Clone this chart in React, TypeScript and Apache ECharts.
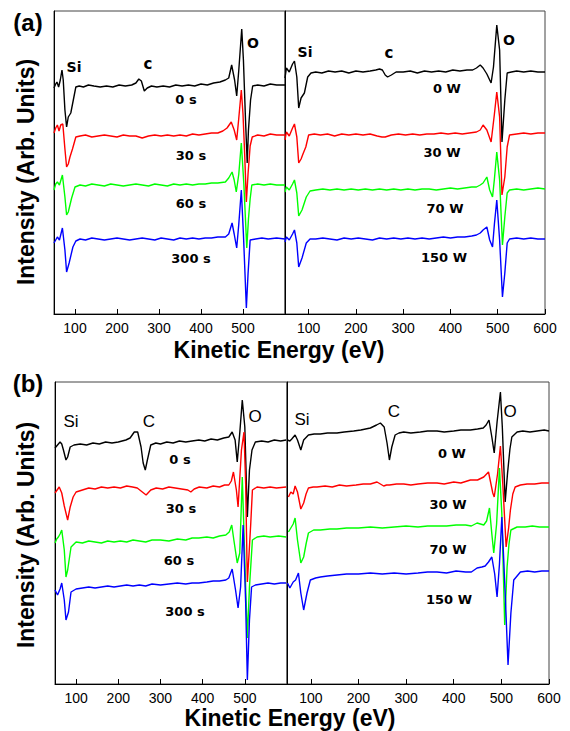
import React, { useEffect, useRef } from "react";
import * as echarts from "echarts";

// ---------- data (x = kinetic energy in eV, y = intensity, arb. units, offset) ----------
const leftTicks = [100, 200, 300, 400, 500];
const rightTicks = [100, 200, 300, 400, 500, 600];
const timeLabels = ["0 s", "30 s", "60 s", "300 s"];
const powerLabels = ["0 W", "30 W", "70 W", "150 W"];
const peakLabelsA = ["Si", "c", "O"];
const peakLabelsB = ["Si", "C", "O"];
const colors = ["#000000", "#ff0000", "#00ff00", "#0000ff"];

const aL_0s = [[50,226],[54,230],[57,232],[61,227],[65,234],[69,244],[72,234],[76,204],[80,187],[84,197],[90,201],[96,214],[102,227],[110,228],[120,227],[132,229],[145,228],[160,227],[175,228],[190,227],[205,229],[220,228],[235,229],[245,231],[252,235],[258,233],[265,223],[272,226],[282,228],[295,227],[310,228],[325,227],[340,229],[355,228],[370,229],[385,228],[400,230],[415,229],[430,231],[445,232],[458,234],[466,236],[473,249],[480,234],[485,218],[490,244],[497,285],[501,254],[506,194],[510,151],[513,184],[518,214],[523,228],[535,229],[550,228],[565,230],[580,229],[600,229]];
const aL_30s = [[50,181],[54,186],[58,189],[62,183],[66,189],[71,190],[76,165],[80,147],[84,150],[88,157],[94,165],[98,171],[102,177],[112,178],[125,179],[140,177],[155,178],[170,179],[185,178],[200,177],[215,179],[230,178],[245,178],[260,176],[275,178],[290,179],[305,178],[320,179],[335,178],[350,179],[365,178],[380,180],[395,179],[410,180],[425,181],[440,181],[452,183],[462,186],[472,192],[479,184],[485,174],[490,196],[496,224],[500,200],[504,160],[508,112],[512,140],[517,168],[522,177],[535,179],[550,178],[565,180],[580,179],[600,179]];
const aL_60s = [[50,124],[54,130],[58,132],[63,129],[70,139],[76,117],[80,99],[84,102],[92,116],[100,127],[112,129],[125,128],[140,130],[155,129],[170,128],[185,130],[200,129],[215,128],[230,129],[245,130],[260,129],[275,128],[290,130],[305,129],[320,128],[335,130],[350,129],[365,130],[380,129],[395,130],[410,130],[425,131],[440,131],[458,132],[466,136],[474,142],[479,134],[484,122],[490,140],[496,171],[502,130],[509,66],[513,95],[517,115],[521,129],[535,130],[550,129],[565,130],[580,129],[600,129]];
const aL_300s = [[50,71],[54,74],[58,77],[63,74],[70,86],[76,64],[80,42],[86,51],[95,67],[102,73],[112,75],[125,74],[140,76],[155,75],[170,74],[185,75],[200,76],[215,75],[230,74],[245,75],[260,76],[275,75],[290,74],[305,76],[320,75],[335,74],[350,76],[365,75],[380,76],[395,75],[410,76],[425,76],[440,77],[458,77],[466,80],[474,91],[479,80],[485,66],[490,90],[496,124],[501,80],[508,6],[512,40],[517,74],[530,75],[545,76],[560,75],[580,76],[600,75]];

const aR_0W = [[50,236],[53,246],[59,242],[66,250],[70,253],[75,237],[79,206],[84,216],[91,221],[98,237],[105,241],[115,242],[128,241],[142,243],[156,242],[170,243],[185,241],[200,243],[215,242],[230,243],[242,244],[250,245],[256,244],[262,239],[267,237],[275,239],[285,242],[300,242],[315,243],[330,241],[345,243],[360,242],[375,243],[390,242],[405,244],[420,243],[435,244],[447,244],[455,246],[463,249],[469,246],[477,240],[486,231],[491,247],[498,289],[504,264],[509,172],[515,214],[520,241],[529,242],[540,243],[555,242],[570,243],[585,242],[600,242]];
const aR_30W = [[50,174],[53,182],[59,178],[66,186],[70,190],[75,177],[79,151],[84,155],[88,160],[94,167],[100,179],[112,180],[125,179],[140,180],[155,178],[170,180],[185,179],[200,180],[215,179],[230,180],[245,178],[255,177],[262,177],[275,179],[290,180],[305,179],[320,180],[335,179],[350,180],[365,180],[380,181],[395,180],[410,181],[425,180],[440,181],[455,182],[463,184],[469,189],[477,184],[486,172],[493,200],[498,222],[504,197],[509,119],[515,137],[520,167],[525,179],[540,180],[555,181],[570,180],[585,181],[600,181]];
const aR_70W = [[50,122],[53,127],[59,124],[66,130],[70,134],[75,121],[79,98],[86,104],[95,117],[103,123],[115,124],[130,125],[145,124],[160,125],[175,124],[190,125],[205,124],[220,125],[235,124],[250,125],[265,124],[280,125],[295,124],[310,125],[325,124],[340,125],[355,125],[370,124],[385,125],[400,126],[415,125],[430,126],[445,127],[455,127],[463,129],[469,131],[477,137],[483,124],[489,117],[493,135],[498,162],[504,134],[510,69],[515,97],[520,121],[525,124],[540,125],[555,124],[570,125],[585,126],[600,125]];
const aR_150W = [[50,72],[53,77],[59,74],[66,80],[70,84],[75,71],[79,47],[86,56],[95,71],[103,75],[115,75],[130,76],[145,75],[160,74],[175,76],[190,75],[205,76],[220,75],[235,74],[250,76],[265,75],[280,76],[295,75],[310,76],[325,75],[340,76],[355,75],[370,76],[385,77],[400,76],[415,77],[430,77],[445,78],[455,79],[463,81],[469,84],[477,87],[483,74],[489,67],[493,90],[498,114],[504,74],[510,17],[515,41],[520,71],[525,75],[540,76],[555,75],[570,76],[585,75],[600,75]];

const bL_0s = [[50,236],[56,239],[62,242],[66,240],[70,234],[76,224],[80,227],[86,237],[95,239],[110,240],[125,239],[140,241],[155,240],[170,242],[185,241],[200,242],[218,244],[228,246],[238,252],[246,252],[254,237],[259,221],[264,214],[269,224],[277,239],[289,241],[300,240],[315,242],[330,241],[345,243],[360,242],[375,243],[391,244],[405,243],[420,245],[435,244],[450,246],[462,247],[470,252],[477,244],[482,222],[488,251],[494,284],[500,257],[506,167],[511,214],[517,234],[525,242],[540,243],[555,242],[570,244],[585,243],[598,244]];
const bL_30s = [[50,191],[55,194],[60,197],[66,191],[72,178],[76,171],[80,164],[86,177],[93,187],[100,192],[115,194],[130,196],[145,195],[160,197],[175,196],[190,197],[205,196],[220,198],[234,197],[245,196],[254,193],[260,191],[266,189],[277,194],[290,196],[305,195],[320,197],[335,196],[350,195],[365,194],[372,192],[380,195],[392,197],[410,196],[425,198],[440,197],[452,199],[462,199],[468,203],[473,212],[480,194],[484,177],[492,234],[498,252],[502,200],[506,102],[510,130],[514,160],[518,194],[529,197],[545,196],[560,197],[575,196],[598,197]];
const bL_60s = [[50,141],[54,145],[58,147],[62,150],[66,154],[72,134],[76,107],[80,114],[88,137],[100,142],[115,141],[130,143],[145,142],[160,141],[175,143],[190,142],[205,143],[220,142],[235,144],[250,143],[265,142],[280,144],[300,144],[320,143],[340,145],[360,144],[375,146],[391,146],[410,147],[425,146],[440,148],[455,149],[463,152],[469,159],[474,144],[482,121],[488,131],[494,207],[502,97],[506,46],[511,97],[518,144],[529,147],[545,148],[560,147],[580,148],[598,147]];
const bL_300s = [[50,94],[56,89],[62,95],[66,101],[72,84],[76,64],[82,72],[88,92],[100,95],[115,96],[130,97],[145,96],[160,97],[175,98],[190,97],[205,98],[220,99],[235,98],[250,99],[265,98],[280,100],[300,99],[320,100],[340,101],[360,100],[375,101],[391,101],[410,102],[425,103],[440,103],[455,104],[462,106],[470,115],[478,94],[484,76],[490,97],[496,159],[502,81],[506,4],[511,64],[516,97],[525,99],[540,100],[555,101],[570,100],[585,101],[598,101]];

const bR_0W = [[51,244],[56,243],[60,245],[67,249],[72,244],[79,234],[85,244],[95,249],[107,250],[120,250],[135,251],[155,251],[170,252],[190,253],[205,254],[225,256],[238,259],[246,261],[254,257],[260,241],[265,224],[270,237],[277,249],[285,251],[295,252],[310,251],[330,252],[345,253],[365,253],[380,252],[400,253],[415,254],[435,254],[450,255],[462,256],[468,259],[474,264],[480,247],[485,231],[491,262],[498,292],[502,257],[508,182],[513,211],[518,235],[522,247],[533,252],[545,253],[560,252],[575,253],[590,254],[600,253]];
const bR_30W = [[53,187],[58,192],[63,190],[67,198],[72,192],[79,175],[85,181],[90,190],[95,196],[105,197],[113,197],[130,198],[145,197],[160,199],[175,198],[195,199],[210,200],[225,200],[232,201],[239,202],[246,200],[253,198],[259,199],[265,199],[280,200],[295,200],[310,199],[325,200],[345,201],[365,201],[380,200],[400,202],[415,201],[435,204],[450,204],[463,207],[473,212],[482,191],[485,187],[492,210],[498,238],[503,200],[510,137],[515,155],[519,174],[524,190],[529,197],[540,199],[554,200],[570,200],[585,201],[600,201]];
const bR_70W = [[53,152],[58,156],[63,160],[67,166],[72,144],[79,121],[85,127],[90,140],[95,151],[106,154],[120,154],[140,155],[155,155],[175,156],[200,156],[225,157],[250,156],[275,157],[300,158],[325,157],[345,158],[365,158],[385,158],[405,159],[425,159],[437,158],[449,161],[463,159],[469,163],[475,176],[480,150],[484,131],[490,160],[496,216],[501,170],[507,59],[512,117],[516,140],[520,154],[533,157],[550,157],[565,158],[580,157],[600,157]];
const bR_150W = [[51,101],[56,96],[63,102],[68,104],[74,111],[79,91],[85,74],[92,91],[99,104],[110,106],[120,107],[135,108],[155,109],[175,110],[200,110],[225,111],[250,110],[275,111],[300,110],[325,111],[345,112],[365,112],[385,111],[405,113],[425,112],[437,112],[449,116],[459,117],[466,118],[473,122],[480,127],[486,110],[491,87],[496,120],[501,167],[508,91],[514,19],[520,71],[526,104],[540,112],[555,113],[570,112],[585,113],[600,113]];

const panelCurves = [
  [aL_0s, aL_30s, aL_60s, aL_300s],
  [aR_0W, aR_30W, aR_70W, aR_150W],
  [bL_0s, bL_30s, bL_60s, bL_300s],
  [bR_0W, bR_30W, bR_70W, bR_150W],
];

const FONT = "'Liberation Sans', Arial, Helvetica, sans-serif";
const WIDE = "'DejaVu Sans', Verdana, sans-serif";

function txt(text: string, x: number, y: number, size: number, bold: boolean, rotation = 0, family = FONT) {
  return {
    type: "text",
    x,
    y,
    rotation,
    style: {
      text,
      fill: "#000",
      font: `${bold ? "bold " : ""}${size}px ${family}`,
      textAlign: "center",
      textVerticalAlign: "middle",
    },
  };
}

export default function App() {
  const ref = useRef<HTMLDivElement>(null);

  useEffect(() => {
    if (!ref.current) return;
    const chart = echarts.init(ref.current, null, { renderer: "svg" });

    const grids = [
      { left: 54, top: 11, width: 231, height: 303 },
      { left: 285, top: 11, width: 260, height: 303 },
      { left: 55, top: 382, width: 232, height: 302 },
      { left: 287, top: 382, width: 262, height: 302 },
    ].map((g) => ({ ...g, show: true, borderColor: "#444", borderWidth: 1, containLabel: false }));

    const xAxes = grids.map((_, i) => {
      const ticks = i % 2 === 0 ? leftTicks : rightTicks;
      return {
        type: "value",
        gridIndex: i,
        min: 50,
        max: 600,
        axisLine: { show: true, onZero: false, lineStyle: { color: "#000", width: 1 } },
        axisTick: { show: true, inside: true, length: 5, customValues: ticks, lineStyle: { color: "#000" } },
        axisLabel: {
          show: true,
          customValues: ticks,
          margin: 7,
          color: "#000",
          fontSize: 14,
          fontFamily: FONT,
        },
        splitLine: { show: false },
      };
    });

    const yAxes = grids.map((_, i) => ({
      type: "value",
      gridIndex: i,
      min: 0,
      max: i < 2 ? 303 : 302,
      axisLine: { show: true, lineStyle: { color: "#000", width: 1 } },
      axisTick: { show: false },
      axisLabel: { show: false },
      splitLine: { show: false },
    }));

    const series: any[] = [];
    panelCurves.forEach((curves, gi) => {
      curves.forEach((data, ci) => {
        series.push({
          type: "line",
          xAxisIndex: gi,
          yAxisIndex: gi,
          data,
          showSymbol: false,
          smooth: false,
          lineStyle: { color: colors[ci], width: 1.4 },
          itemStyle: { color: colors[ci] },
          z: 2 + ci,
        });
      });
    });

    const graphic: any[] = [
      txt("(a)", 28, 22, 24, true),
      txt("(b)", 28, 383, 24, true),
      txt("Intensity (Arb. Units)", 26, 172, 23, true, Math.PI / 2),
      txt("Intensity (Arb. Units)", 26, 535, 23, true, Math.PI / 2),
      txt("Kinetic Energy (eV)", 279, 350, 23, true),
      txt("Kinetic Energy (eV)", 290, 718, 23, true),
      // panel (a) left
      txt(peakLabelsA[0], 74, 67, 14, true, 0, WIDE),
      txt(peakLabelsA[1], 148, 64, 15, true, 0, WIDE),
      txt(peakLabelsA[2], 253, 43, 14, true, 0, WIDE),
      txt(timeLabels[0], 186, 99, 13, true, 0, WIDE),
      txt(timeLabels[1], 191, 155, 13, true, 0, WIDE),
      txt(timeLabels[2], 191, 203, 13, true, 0, WIDE),
      txt(timeLabels[3], 191, 258, 13, true, 0, WIDE),
      // panel (a) right
      txt(peakLabelsA[0], 305, 52, 14, true, 0, WIDE),
      txt(peakLabelsA[1], 389, 53, 15, true, 0, WIDE),
      txt(peakLabelsA[2], 509, 40, 14, true, 0, WIDE),
      txt(powerLabels[0], 447, 88, 13, true, 0, WIDE),
      txt(powerLabels[1], 442, 152, 13, true, 0, WIDE),
      txt(powerLabels[2], 445, 208, 13, true, 0, WIDE),
      txt(powerLabels[3], 444, 257, 13, true, 0, WIDE),
      // panel (b) left
      txt(peakLabelsB[0], 71, 421, 17, false),
      txt(peakLabelsB[1], 149, 421, 17, false),
      txt(peakLabelsB[2], 255, 416, 17, false),
      txt(timeLabels[0], 180, 459, 13, true, 0, WIDE),
      txt(timeLabels[1], 181, 508, 13, true, 0, WIDE),
      txt(timeLabels[2], 179, 560, 13, true, 0, WIDE),
      txt(timeLabels[3], 185, 611, 13, true, 0, WIDE),
      // panel (b) right
      txt(peakLabelsB[0], 302, 419, 17, false),
      txt(peakLabelsB[1], 394, 411, 17, false),
      txt(peakLabelsB[2], 510, 411, 17, false),
      txt(powerLabels[0], 452, 453, 13, true, 0, WIDE),
      txt(powerLabels[1], 448, 504, 13, true, 0, WIDE),
      txt(powerLabels[2], 448, 549, 13, true, 0, WIDE),
      txt(powerLabels[3], 449, 599, 13, true, 0, WIDE),
    ];

    chart.setOption({
      animation: false,
      backgroundColor: "#fff",
      grid: grids,
      xAxis: xAxes,
      yAxis: yAxes,
      series,
      graphic,
    });

    return () => chart.dispose();
  }, []);

  return (
    <div
      ref={ref}
      style={{ position: "fixed", left: 0, top: 0, width: 570, height: 731, background: "#fff" }}
    />
  );
}
